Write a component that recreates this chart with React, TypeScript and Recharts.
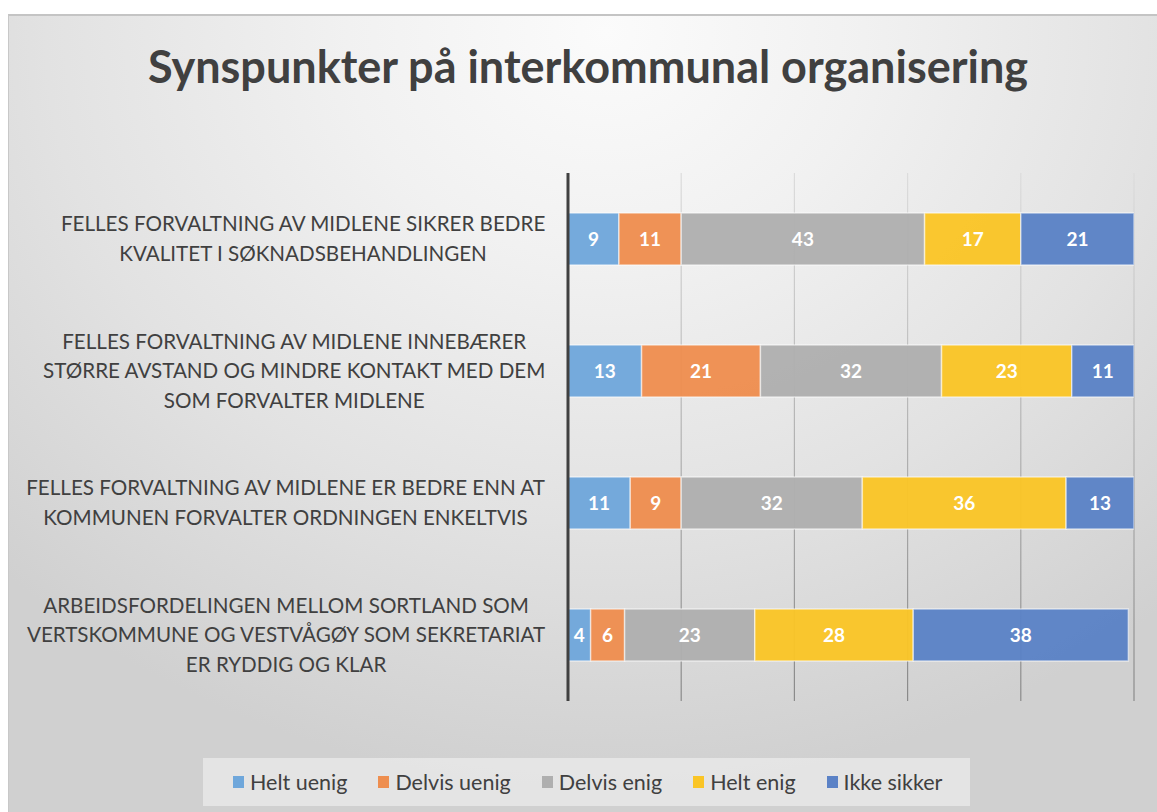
import React from 'react';
import { BarChart, Bar, XAxis, YAxis, CartesianGrid, Legend, LabelList } from 'recharts';

const categories = [
  'Felles forvaltning av midlene sikrer bedre kvalitet i søknadsbehandlingen',
  'Felles forvaltning av midlene innebærer større avstand og mindre kontakt med dem som forvalter midlene',
  'Felles forvaltning av midlene er bedre enn at kommunen forvalter ordningen enkeltvis',
  'Arbeidsfordelingen mellom Sortland som vertskommune og Vestvågøy som sekretariat er ryddig og klar',
];

const categoryLines = [
  ['FELLES FORVALTNING AV MIDLENE SIKRER BEDRE', 'KVALITET I SØKNADSBEHANDLINGEN'],
  ['FELLES FORVALTNING AV MIDLENE INNEBÆRER', 'STØRRE AVSTAND OG MINDRE KONTAKT MED DEM', 'SOM FORVALTER MIDLENE'],
  ['FELLES FORVALTNING AV MIDLENE ER BEDRE ENN AT', 'KOMMUNEN FORVALTER ORDNINGEN ENKELTVIS'],
  ['ARBEIDSFORDELINGEN MELLOM SORTLAND SOM', 'VERTSKOMMUNE OG VESTVÅGØY SOM SEKRETARIAT', 'ER RYDDIG OG KLAR'],
];

const heltUenig = [9, 13, 11, 4];
const delvisUenig = [11, 21, 9, 6];
const delvisEnig = [43, 32, 32, 23];
const heltEnig = [17, 23, 36, 28];
const ikkeSikker = [21, 11, 13, 38];

const xTicks = [0, 20, 40, 60, 80, 100];

const series = [
  { key: 'heltUenig', name: 'Helt uenig', color: '#6FA7DB' },
  { key: 'delvisUenig', name: 'Delvis uenig', color: '#EE8E4F' },
  { key: 'delvisEnig', name: 'Delvis enig', color: '#AFAFAF' },
  { key: 'heltEnig', name: 'Helt enig', color: '#FAC526' },
  { key: 'ikkeSikker', name: 'Ikke sikker', color: '#5B82C6' },
];

const data = categories.map((name, i) => ({
  name,
  heltUenig: heltUenig[i],
  delvisUenig: delvisUenig[i],
  delvisEnig: delvisEnig[i],
  heltEnig: heltEnig[i],
  ikkeSikker: ikkeSikker[i],
}));

const FONT = 'Lato, "Open Sans", sans-serif';
const TICK_SIZE = 20.6;

// measure text so the label block can be right aligned with its lines centred
let ctx: CanvasRenderingContext2D | null = null;
const textWidth = (s: string) => {
  if (!ctx) ctx = document.createElement('canvas').getContext('2d');
  if (!ctx) return s.length * 11.5;
  ctx.font = `${TICK_SIZE}px ${FONT}`;
  return ctx.measureText(s).width;
};

const CategoryTick = (props: any) => {
  const { x, y, index } = props;
  const lines: string[] = categoryLines[index] || [];
  const lineH = 29.5;
  const maxW = Math.max(...lines.map(textWidth));
  const cx = x - 14 - maxW / 2;
  const startY = y - ((lines.length - 1) * lineH) / 2;
  return (
    <text x={cx} y={startY} textAnchor="middle" fill="#404040" fontSize={TICK_SIZE} fontFamily={FONT}>
      {lines.map((l, i) => (
        <tspan key={i} x={cx} y={startY + i * lineH} dy="0.35em">
          {l}
        </tspan>
      ))}
    </text>
  );
};

const LegendContent = () => (
  <div
    style={{
      display: 'flex',
      alignItems: 'center',
      height: 48,
      paddingLeft: 30,
      background: 'rgba(235,235,235,0.75)',
      fontFamily: FONT,
      fontSize: 21.5,
      color: '#404040',
      whiteSpace: 'nowrap',
    }}
  >
    {series.map((s) => (
      <div key={s.key} style={{ display: 'flex', alignItems: 'center', marginRight: 31, flexShrink: 0 }}>
        <span
          style={{
            display: 'inline-block',
            width: 11,
            height: 12,
            background: s.color,
            marginRight: 6,
          }}
        />
        <span>{s.name}</span>
      </div>
    ))}
  </div>
);

const App: React.FC = () => {
  return (
    <div style={{ position: 'absolute', left: 0, top: 0, width: 1157, height: 812, background: '#fff', overflow: 'hidden' }}>
      <div
        style={{
          position: 'absolute',
          left: 8,
          top: 14,
          width: 1149,
          height: 798,
          borderTop: '2px solid #c4c4c4',
          borderLeft: '1px solid #c8c8c8',
          boxSizing: 'border-box',
          background: 'radial-gradient(ellipse 75% 95% at 52% 2%, #fbfbfb 0%, #f1f1f1 30%, #e2e2e2 65%, #d0d0d0 100%)',
        }}
      />
      <div
        style={{
          position: 'absolute',
          left: 0,
          top: 39,
          width: 1176,
          textAlign: 'center',
          fontFamily: FONT,
          fontWeight: 'bold',
          fontSize: 45,
          color: '#404040',
          whiteSpace: 'nowrap',
        }}
      >
        Synspunkter på interkommunal organisering
      </div>
      <div style={{ position: 'absolute', left: 0, top: 0 }}>
        <BarChart
          width={1157}
          height={812}
          data={data}
          layout="vertical"
          margin={{ top: 173, right: 23, bottom: 63, left: 0 }}
          barSize={52}
        >
          <defs>
            <linearGradient id="gridGrad" gradientUnits="userSpaceOnUse" x1="0" y1="173" x2="0" y2="697">
              <stop offset="0%" stopColor="#dcdcdc" />
              <stop offset="100%" stopColor="#8a8a8a" />
            </linearGradient>
          </defs>
          <CartesianGrid horizontal={false} stroke="url(#gridGrad)" strokeWidth={1.2} />
          <XAxis type="number" domain={[0, 100]} ticks={xTicks} allowDataOverflow hide />
          <YAxis
            type="category"
            dataKey="name"
            width={568}
            axisLine={{ stroke: '#404040', strokeWidth: 3 }}
            tickLine={false}
            tick={<CategoryTick />}
            interval={0}
          />
          <Legend
            verticalAlign="bottom"
            content={<LegendContent />}
            wrapperStyle={{ position: 'absolute', left: 203, top: 758, width: 767, height: 48, bottom: 'auto' }}
          />
          {series.map((s) => (
            <Bar
              key={s.key}
              dataKey={s.key}
              name={s.name}
              stackId="a"
              fill={s.color}
              fillOpacity={0.96}
              stroke="rgba(255,255,255,0.55)"
              strokeWidth={1.5}
              isAnimationActive={false}
            >
              <LabelList
                dataKey={s.key}
                position="center"
                fill="#ffffff"
                fontSize={19}
                fontWeight="bold"
                fontFamily={FONT}
              />
            </Bar>
          ))}
        </BarChart>
      </div>
    </div>
  );
};

export default App;
